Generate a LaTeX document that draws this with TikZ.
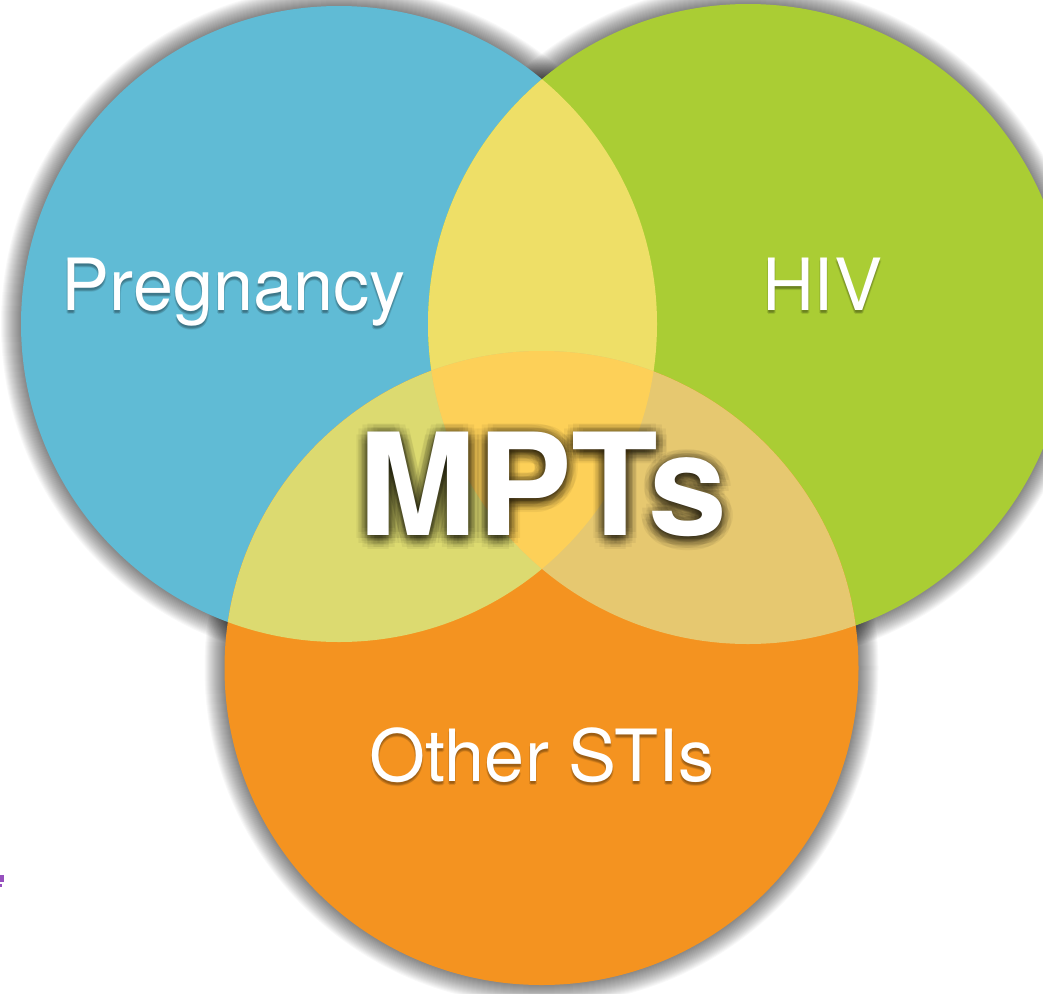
\documentclass[tikz,border=0pt]{standalone}
\usepackage{fontspec}
\setmainfont{TeX Gyre Heros}
\definecolor{cblue}{RGB}{96,187,213}
\definecolor{cgreen}{RGB}{170,205,52}
\definecolor{corange}{RGB}{244,147,32}
\definecolor{cbg}{RGB}{238,223,103}
\definecolor{cbo}{RGB}{220,218,112}
\definecolor{cgo}{RGB}{230,200,112}
\definecolor{cctr}{RGB}{253,208,88}
\definecolor{cpurple}{RGB}{150,80,190}
\begin{document}
\begin{tikzpicture}[x=1pt,y=-1pt,
  lbl/.style={text=white, font=\fontsize{72}{80}\selectfont, inner sep=0pt, anchor=base},
  lblshadow/.style={text=black, text opacity=0.10, font=\fontsize{72}{80}\selectfont, inner sep=0pt, anchor=base},
  bigtxt/.style={text=white, font=\fontsize{142}{150}\selectfont\bfseries, inner sep=0pt, anchor=base},
  bigglow/.style={text=black, text opacity=0.05, font=\fontsize{142}{150}\selectfont\bfseries, inner sep=0pt, anchor=base},
  shadowring/.style={fill=black, opacity=0.029}]
\useasboundingbox (0,0) rectangle (1043,993);
\fill[white] (0,0) rectangle (1043,993);
\clip (0,0) rectangle (1043,993);
\coordinate (B) at (339,324);
\coordinate (G) at (748,324);
\coordinate (O) at (541.5,668);
\def\rB{318}
\def\rG{320}
\def\rO{317}
% soft shadows
\foreach \k in {1,...,20} {
  \fill[shadowring] (B) circle[radius={\rB pt+\k pt}];
  \fill[shadowring] (G) circle[radius={\rG pt+\k pt}];
  \fill[shadowring] (O) circle[radius={\rO pt+\k pt}];
}
% circles
\fill[cblue] (B) circle[radius=\rB pt];
\fill[cgreen] (G) circle[radius=\rG pt];
\fill[corange] (O) circle[radius=\rO pt];
% overlaps
\begin{scope}
  \clip (B) circle[radius=\rB pt];
  \fill[cbg] (G) circle[radius=\rG pt];
  \fill[cbo] (O) circle[radius=\rO pt];
\end{scope}
\begin{scope}
  \clip (G) circle[radius=\rG pt];
  \fill[cgo] (O) circle[radius=\rO pt];
  \clip (B) circle[radius=\rB pt];
  \fill[cctr] (O) circle[radius=\rO pt];
\end{scope}
% label shadows
\foreach \dx/\dy [count=\i] in {0/2,1/3,0/4,-1/3} {
  \node[lblshadow] (pregS\i) at (233.5+\dx,310+\dy) {Pregnancy};
  \node[lblshadow] (hivS\i) at (822+\dx,310+\dy) {HIV};
  \node[lblshadow] (stiS\i) at (542+\dx,781+\dy) {Other STIs};
}
% glow behind MPTs
\foreach \a in {0,30,...,330} {
  \foreach \d in {3,7,11} {
    \node[bigglow] (glow\a-\d) at ({543+\d*cos(\a)},{538+\d*sin(\a)}) {MPTs};
  }
}
% labels
\node[lbl] (preg) at (233.5,310) {Pregnancy};
\node[lbl] (hiv) at (822,310) {HIV};
\node[lbl] (sti) at (542,781) {Other STIs};
\node[bigtxt] (mpts) at (543,535) {MPTs};
% small purple mark at left edge
\fill[cpurple] (0,875) rectangle (3.5,882);
\fill[cpurple] (0,884) rectangle (2,887);
\end{tikzpicture}
\end{document}
